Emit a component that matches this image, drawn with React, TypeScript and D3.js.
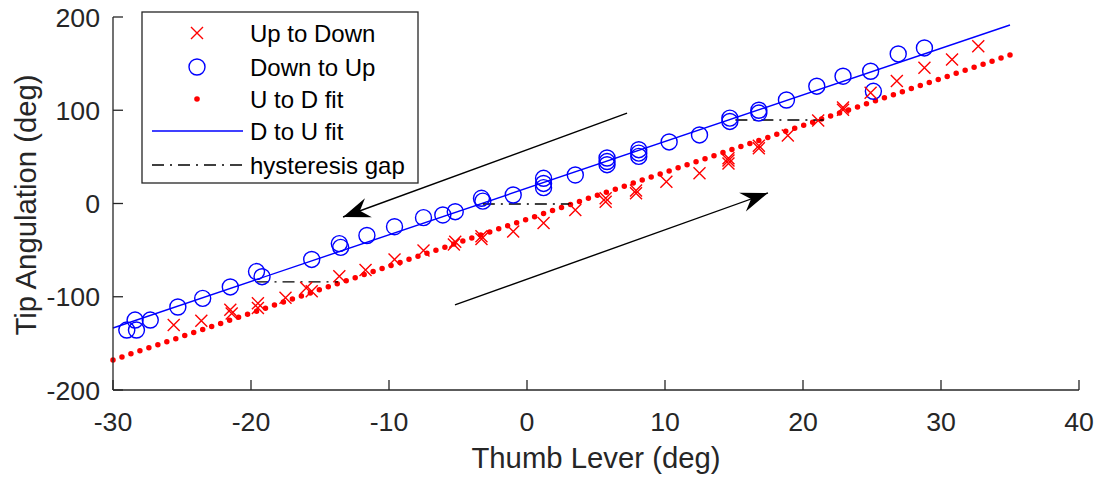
import React from "react";
import * as d3 from "d3";

// Up to Down (red x)
const upDownX = [-25.6, -23.6, -21.5, -21.4, -19.5, -19.5, -17.5, -16.0, -15.6, -13.6, -11.7, -9.6, -7.5, -5.3, -5.2, -3.3, -3.3, -1.0, 1.2, 3.5, 5.7, 5.7, 7.9, 7.9, 10.1, 12.5, 14.6, 14.6, 14.6, 16.8, 16.8, 18.9, 21.1, 22.9, 22.9, 24.9, 26.8, 28.8, 30.8, 32.7];
const upDownY = [-130.3, -125.7, -114, -118, -107, -112, -101, -90.5, -94, -78, -71.3, -60, -50.4, -44, -41, -35, -38, -30, -21, -7, 5.6, 2, 11, 14, 23.4, 32.4, 48.6, 43, 46, 59.2, 62, 73, 89, 100.5, 103, 118.7, 131.3, 145.5, 154.4, 168.7];

// Down to Up (blue o)
const downUpX = [-29.0, -28.4, -28.3, -27.3, -25.3, -23.5, -21.5, -19.6, -19.2, -15.6, -13.6, -13.5, -11.6, -9.6, -7.5, -6.1, -5.2, -3.3, -3.2, -1.0, 1.2, 1.2, 1.2, 3.5, 5.8, 5.8, 5.8, 8.1, 8.1, 8.1, 10.3, 12.5, 14.7, 14.7, 16.8, 16.8, 18.8, 21.0, 22.9, 24.9, 25.1, 26.9, 28.8];
const downUpY = [-135.7, -125, -135.7, -125, -111, -101.7, -89.5, -73, -78.5, -60, -43, -47, -34.3, -24.9, -15.2, -12.3, -8.8, 5.6, 2.5, 9.1, 27, 21.5, 17, 30.6, 48.8, 45, 41.6, 57.7, 54, 50.5, 66, 73.5, 91.6, 88, 100, 97, 111, 125.8, 136.5, 141.8, 120.3, 160.4, 166.8];

// fit line end points
const fitX = [-30, 35];
const uToDFitY = [-167.8, 159.2];
const dToUFitY = [-133.5, 191.4];

// hysteresis gaps
const gapY = [-84, -0.5, 89.5];
const gapX1 = [-19.6, -3.2, 15.1];
const gapX2 = [-13.7, 3.2, 21.5];

// arrows (start -> tip)
const arrowX1 = [7.25, -5.22];
const arrowY1 = [97, -108.8];
const arrowX2 = [-13.33, 17.46];
const arrowY2 = [-14.5, 11.3];

const xTicks = [-30, -20, -10, 0, 10, 20, 30, 40];
const yTicks = [-200, -100, 0, 100, 200];

const legendLabels = ["Up to Down", "Down to Up", "U to D fit", "D to U fit", "hysteresis gap"];

const font = "'Liberation Sans', Arial, Helvetica, sans-serif";
const ink = "#262626";

export default function App() {
  const width = 1100, height = 478;
  const x = d3.scaleLinear().domain([-30, 40]).range([113, 1079]);
  const y = d3.scaleLinear().domain([-200, 200]).range([390, 17]);

  // red dotted fit: dots spaced evenly along the segment
  const rx1 = x(fitX[0]), ry1 = y(uToDFitY[0]), rx2 = x(fitX[1]), ry2 = y(uToDFitY[1]);
  const redLen = Math.hypot(rx2 - rx1, ry2 - ry1);
  const dotGap = redLen / 100;

  const arrowHead = (x1: number, y1: number, x2: number, y2: number) => {
    const ang = Math.atan2(y2 - y1, x2 - x1);
    const L = 27, W = 10, N = 18;
    const pts = [
      [0, 0],
      [-L, -W],
      [-N, 0],
      [-L, W],
    ].map(([px, py]) => [
      x2 + px * Math.cos(ang) - py * Math.sin(ang),
      y2 + px * Math.sin(ang) + py * Math.cos(ang),
    ]);
    return "M" + pts.map((p) => p.join(",")).join("L") + "Z";
  };

  const legendRows = [33, 67, 99, 131, 165];

  return (
    <svg width={width} height={height} style={{ position: "absolute", left: 0, top: 0, background: "#fff" }} fontFamily={font}>
      {/* fit lines */}
      <line x1={x(fitX[0])} y1={y(dToUFitY[0])} x2={x(fitX[1])} y2={y(dToUFitY[1])} stroke="#0000ff" strokeWidth={1.4} />
      <line x1={rx1} y1={ry1} x2={rx2} y2={ry2} stroke="#ff0000" strokeWidth={5.5} strokeLinecap="round" strokeDasharray={`0 ${dotGap}`} />

      {/* hysteresis gaps */}
      {gapY.map((g, i) => (
        <line key={"g" + i} x1={x(gapX1[i])} x2={x(gapX2[i])} y1={y(g)} y2={y(g)} stroke="#000" strokeWidth={1.4} strokeDasharray="12 6 2 6" />
      ))}

      {/* Down to Up circles */}
      {downUpX.map((d, i) => (
        <circle key={"c" + i} cx={x(d)} cy={y(downUpY[i])} r={8} fill="none" stroke="#0000ff" strokeWidth={1.4} />
      ))}

      {/* Up to Down crosses */}
      {upDownX.map((d, i) => (
        <path key={"x" + i} transform={`translate(${x(d)},${y(upDownY[i])})`} d="M-6,-6L6,6M-6,6L6,-6" stroke="#ff0000" strokeWidth={1.4} fill="none" />
      ))}

      {/* arrows */}
      {arrowX1.map((a, i) => {
        const x1 = x(a), y1 = y(arrowY1[i]), x2 = x(arrowX2[i]), y2 = y(arrowY2[i]);
        return (
          <g key={"a" + i}>
            <line x1={x1} y1={y1} x2={x2} y2={y2} stroke="#000" strokeWidth={1.4} />
            <path d={arrowHead(x1, y1, x2, y2)} fill="#000" />
          </g>
        );
      })}

      {/* axes */}
      <g stroke={ink} strokeWidth={1.3}>
        <line x1={x(-30)} x2={x(40)} y1={y(-200)} y2={y(-200)} />
        <line x1={x(-30)} x2={x(-30)} y1={y(-200)} y2={y(200)} />
        {xTicks.map((t) => (
          <line key={"xt" + t} x1={x(t)} x2={x(t)} y1={y(-200)} y2={y(-200) - 10} />
        ))}
        {yTicks.map((t) => (
          <line key={"yt" + t} x1={x(-30)} x2={x(-30) + 10} y1={y(t)} y2={y(t)} />
        ))}
      </g>
      <g fill={ink} fontSize={26.7}>
        {xTicks.map((t) => (
          <text key={"xl" + t} x={x(t)} y={431} textAnchor="middle">{t}</text>
        ))}
        {yTicks.map((t) => (
          <text key={"yl" + t} x={100} y={y(t)} dy="0.36em" textAnchor="end">{t}</text>
        ))}
      </g>
      <text x={596} y={468} textAnchor="middle" fontSize={29.3} fill={ink}>Thumb Lever (deg)</text>
      <text transform="translate(36,205) rotate(-90)" textAnchor="middle" fontSize={29.3} fill={ink}>Tip Angulation (deg)</text>

      {/* legend */}
      <rect x={142} y={12} width={276} height={171} fill="#fff" stroke={ink} strokeWidth={1.3} />
      <path transform={`translate(197,${legendRows[0]})`} d="M-6,-6L6,6M-6,6L6,-6" stroke="#ff0000" strokeWidth={1.4} />
      <circle cx={197} cy={legendRows[1]} r={8} fill="none" stroke="#0000ff" strokeWidth={1.4} />
      <circle cx={197} cy={legendRows[2]} r={2.8} fill="#ff0000" />
      <line x1={152} x2={243} y1={legendRows[3]} y2={legendRows[3]} stroke="#0000ff" strokeWidth={1.4} />
      <line x1={152} x2={243} y1={legendRows[4]} y2={legendRows[4]} stroke="#000" strokeWidth={1.4} strokeDasharray="12 6 2 6" />
      {legendLabels.map((l, i) => (
        <text key={"lg" + i} x={250} y={legendRows[i]} dy="0.36em" fontSize={24} fill="#000">{l}</text>
      ))}
    </svg>
  );
}
